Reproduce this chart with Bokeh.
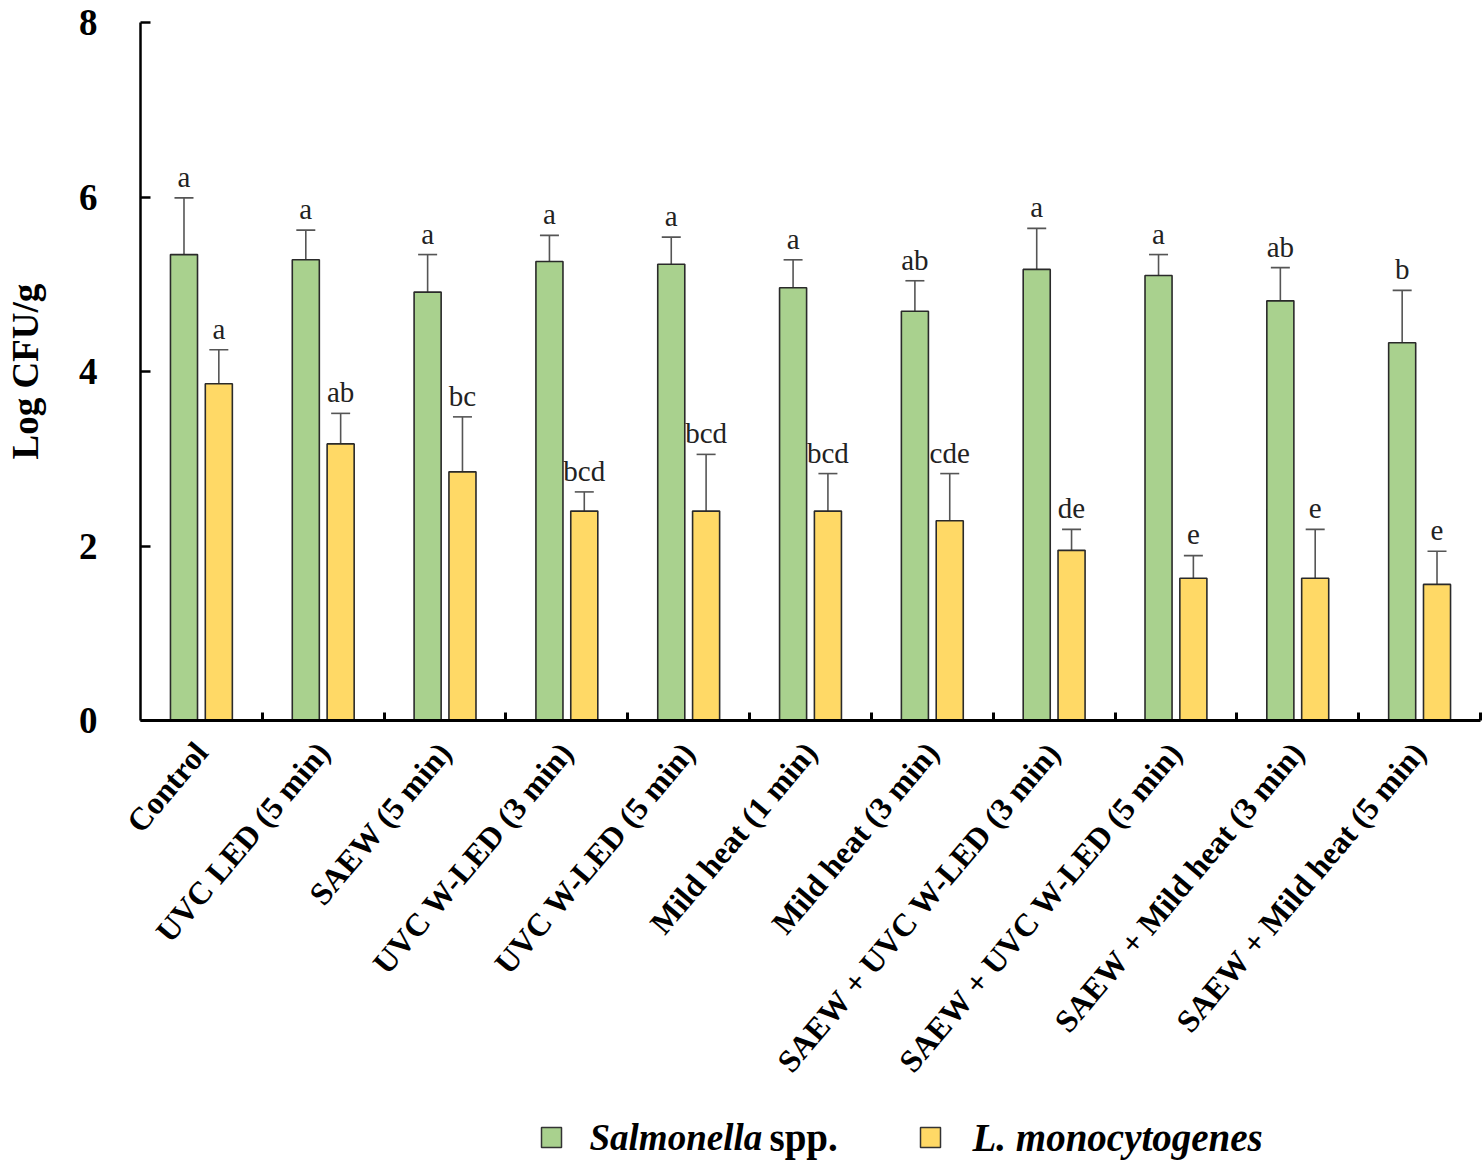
import numpy as np
from bokeh.plotting import figure
from bokeh.models import (ColumnDataSource, Range1d, FixedTicker, Whisker, TeeHead,
                          LinearAxis)
from bokeh.layouts import column
from bokeh.core.properties import value
from bokeh.embed import file_html
from bokeh.resources import INLINE

categories = ["Control", "UVC LED (5 min)", "SAEW (5 min)", "UVC W-LED (3 min)",
              "UVC W-LED (5 min)", "Mild heat (1 min)", "Mild heat (3 min)",
              "SAEW + UVC W-LED (3 min)", "SAEW + UVC W-LED (5 min)",
              "SAEW + Mild heat (3 min)", "SAEW + Mild heat (5 min)"]
salmonella = [5.34, 5.28, 4.91, 5.26, 5.23, 4.96, 4.69, 5.17, 5.10, 4.81, 4.33]
salmonella_sd = [0.65, 0.34, 0.43, 0.30, 0.31, 0.32, 0.35, 0.47, 0.24, 0.38, 0.60]
listeria = [3.86, 3.17, 2.85, 2.40, 2.40, 2.40, 2.29, 1.95, 1.63, 1.63, 1.56]
listeria_sd = [0.39, 0.35, 0.63, 0.22, 0.65, 0.43, 0.54, 0.24, 0.26, 0.56, 0.38]
salmonella_letters = ["a", "a", "a", "a", "a", "a", "ab", "a", "a", "ab", "b"]
listeria_letters = ["a", "ab", "bc", "bcd", "bcd", "bcd", "cde", "de", "e", "e", "e"]
y_ticks = [0, 2, 4, 6, 8]
series_names = ["Salmonella", "spp.", "L. monocytogenes"]

GREEN = "#A9D18E"
YELLOW = "#FFD966"
FONT = "Liberation Serif"

n = len(categories)
centers = np.arange(n) + 0.5
boundaries = list(np.arange(1, n + 1).astype(float))
off = 0.143
bw = 0.222

W = 1482
BL, BR = 140, 2

p = figure(width=W, height=1100, output_backend="svg", toolbar_location=None,
           x_range=Range1d(0, n), y_range=Range1d(0, 8),
           min_border_left=BL, min_border_right=BR, min_border_top=22,
           min_border_bottom=380, x_axis_type=None, y_axis_type=None)
p.outline_line_color = None
p.xgrid.visible = False
p.ygrid.visible = False

s_src = ColumnDataSource(dict(x=centers - off, top=salmonella,
                              upper=np.array(salmonella) + np.array(salmonella_sd),
                              lab=salmonella_letters))
l_src = ColumnDataSource(dict(x=centers + off, top=listeria,
                              upper=np.array(listeria) + np.array(listeria_sd),
                              lab=listeria_letters))

for src, col in ((s_src, GREEN), (l_src, YELLOW)):
    p.vbar(x="x", top="top", bottom=0, width=bw, source=src, fill_color=col,
           line_color="#2a2a2a", line_width=1.6)
    w = Whisker(source=src, base="x", upper="upper", lower="top",
                line_color="#555555", line_width=1.6, lower_head=None,
                upper_head=TeeHead(size=19, line_color="#555555", line_width=1.6))
    p.add_layout(w)
    p.text(x="x", y="upper", text="lab", source=src, text_align="center",
           text_baseline="alphabetic", y_offset=-21, text_font=value(FONT),
           text_font_size="29px", text_color="#222222")

# y axis
ya = LinearAxis(ticker=FixedTicker(ticks=y_ticks), axis_label="Log CFU/g")
ya.axis_line_width = 2.5
ya.axis_line_color = "black"
ya.major_tick_in = 10
ya.major_tick_out = 0
ya.major_tick_line_width = 2.5
ya.minor_tick_line_color = None
ya.major_label_text_font = FONT
ya.major_label_text_font_style = "bold"
ya.major_label_text_font_size = "37px"
ya.major_label_text_color = "black"
ya.major_label_standoff = 43
ya.axis_label_text_font = FONT
ya.axis_label_text_font_style = "bold"
ya.axis_label_text_font_size = "37px"
ya.axis_label_text_color = "black"
ya.axis_label_standoff = 30
p.add_layout(ya, "left")

# x axis
xa = LinearAxis(ticker=FixedTicker(ticks=list(centers), minor_ticks=boundaries))
xa.major_label_overrides = {float(c): lab for c, lab in zip(centers, categories)}
xa.axis_line_width = 3
xa.axis_line_color = "black"
xa.major_tick_line_color = None
xa.minor_tick_in = 8
xa.minor_tick_out = 0
xa.minor_tick_line_width = 3
xa.minor_tick_line_color = "black"
xa.major_label_orientation = 0.87
xa.major_label_text_font = FONT
xa.major_label_text_font_style = "bold"
xa.major_label_text_font_size = "32px"
xa.major_label_text_color = "black"
xa.major_label_standoff = 20
p.add_layout(xa, "below")

# legend row (frame aligned with the main plot, x in page pixels)
LH = 62
lg = figure(width=W, height=LH, output_backend="svg", toolbar_location=None,
            x_range=Range1d(BL, W - BR), y_range=Range1d(0, LH),
            min_border_left=BL, min_border_right=BR, min_border_top=0,
            min_border_bottom=0, x_axis_type=None, y_axis_type=None)
lg.outline_line_color = None
lg.xgrid.visible = False
lg.ygrid.visible = False
ly = LH - 37
lg.rect(x=[551, 930], y=[ly, ly], width=20, height=20, fill_color=[GREEN, YELLOW],
        line_color="#333333", line_width=1.5)
lg.text(x=[589], y=[ly], text=[series_names[0]], text_font=value(FONT),
        text_font_style="bold italic", text_font_size="37px", text_baseline="middle",
        text_align="left", text_color="black")
lg.text(x=[769], y=[ly], text=[series_names[1]], text_font=value(FONT),
        text_font_style="bold", text_font_size="39px", text_baseline="middle",
        text_align="left", text_color="black")
lg.text(x=[972], y=[ly], text=[series_names[2]], text_font=value(FONT),
        text_font_style="bold italic", text_font_size="39px", text_baseline="middle",
        text_align="left", text_color="black")

layout = column(p, lg, spacing=0)
open("out.html", "w").write(file_html(layout, INLINE))
